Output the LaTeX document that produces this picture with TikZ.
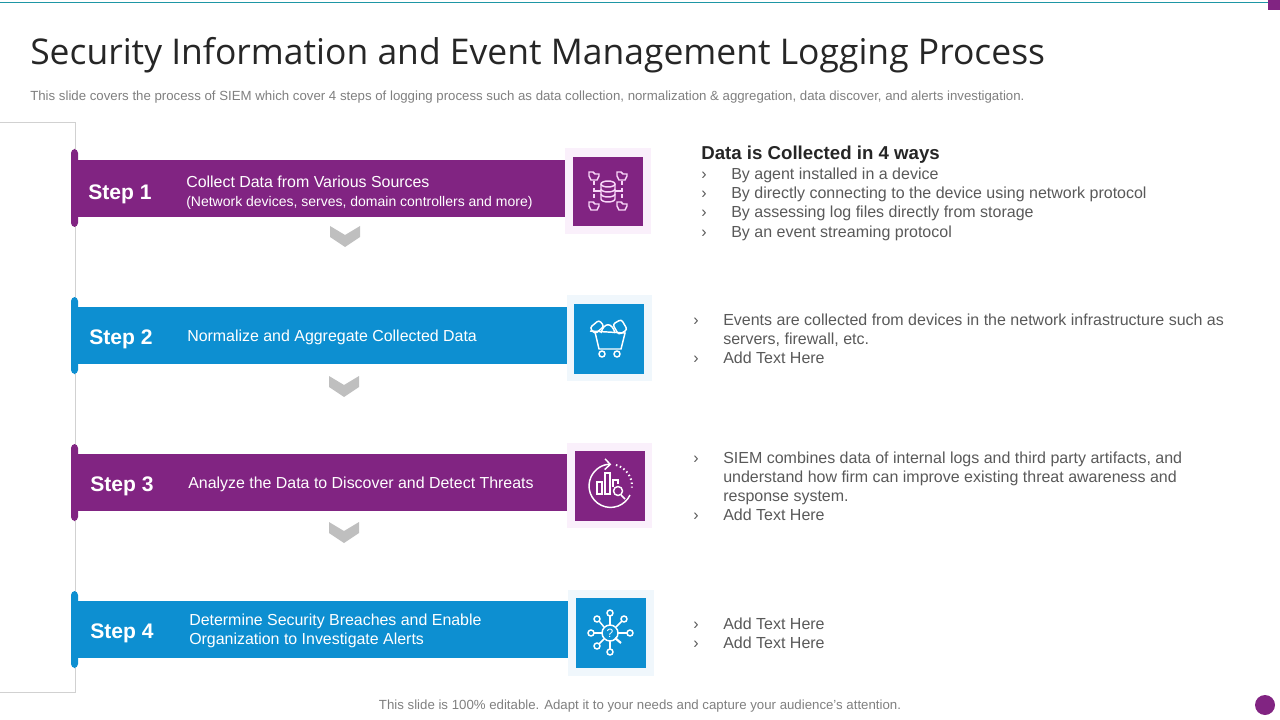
\documentclass[tikz,border=0pt]{standalone}
\usepackage{fontspec}
\usetikzlibrary{arrows.meta}
\setmainfont{Liberation Sans}
\newfontfamily\titlefont{Open Sans}
\definecolor{stepPurple}{RGB}{129,36,130}
\definecolor{stepBlue}{RGB}{13,143,209}
\definecolor{palePurple}{RGB}{250,240,251}
\definecolor{paleBlue}{RGB}{240,247,252}
\definecolor{iconPink}{RGB}{248,214,248}
\definecolor{bodyGray}{RGB}{89,89,89}
\definecolor{noteGray}{RGB}{127,127,127}
\definecolor{topTeal}{RGB}{30,150,165}

\tikzset{
    txt/.style={anchor=base west,inner sep=0pt,font=\fontsize{12}{14}\selectfont,text=bodyGray},
    steplabel/.style={anchor=base west,inner sep=0pt,font=\fontsize{15.8}{18}\bfseries\selectfont,text=white},
    bartxt/.style={anchor=base west,inner sep=0pt,font=\fontsize{11.95}{14}\selectfont,text=white},
    chevron/.style={fill=black!25},
    iconline/.style={draw=white,line width=1.1pt,fill=none},
    pinkline/.style={draw=iconPink,line width=1.1pt,fill=none}
}

\begin{document}
\begin{tikzpicture}[x=0.75pt,y=-0.75pt]
    \useasboundingbox (0,0) rectangle (1280,720);

    \draw[topTeal,line width=0.75pt] (0,3) -- (1268,3);
    \fill[stepPurple] (1268,0) rectangle (1280,10);
    \fill[stepPurple] (1265,705) circle (10);
    \draw[black!18,line width=0.75pt] (0,123) -- (75,123) -- (75,692) -- (0,692);

    \node[anchor=base west,inner sep=0pt,font=\titlefont\fontsize{26.6}{30}\selectfont,text=black!85] (title) at (30,65) {Security Information and Event Management Logging Process};
    \node[anchor=base west,inner sep=0pt,font=\fontsize{9.93}{11}\selectfont,text=noteGray] (subtitle) at (30,101) {This slide covers the process of SIEM which cover 4 steps of logging process such as data collection, normalization \& aggregation, data discover, and alerts investigation.};
    \node[anchor=base,inner sep=0pt,font=\fontsize{9.93}{11}\selectfont,text=noteGray] (footer) at (640,709) {This slide is 100\% editable. Adapt it to your needs and capture your audience's attention.};

    % step bars
    \fill[stepPurple] (76,160) rectangle (565,217);
    \fill[stepPurple,rounded corners=3] (71,149) rectangle (78,227);
    \fill[stepBlue] (76,307) rectangle (567,364);
    \fill[stepBlue,rounded corners=3] (71,297) rectangle (78,374);
    \fill[stepPurple] (76,454) rectangle (567,511);
    \fill[stepPurple,rounded corners=3] (71,444) rectangle (78,521);
    \fill[stepBlue] (76,601) rectangle (568,658);
    \fill[stepBlue,rounded corners=3] (71,591) rectangle (78,668);

    % icon squares
    \fill[palePurple] (565,148) rectangle (651,234);
    \fill[stepPurple] (573,157) rectangle (643,226);
    \fill[paleBlue] (567,295) rectangle (652,381);
    \fill[stepBlue] (574,304) rectangle (644,374);
    \fill[palePurple] (567,443) rectangle (652,528);
    \fill[stepPurple] (575,451) rectangle (645,521);
    \fill[paleBlue] (568,590) rectangle (654,676);
    \fill[stepBlue] (576,598) rectangle (646,668);

    % chevrons
    \fill[chevron,shift={(345,226)}] (-15,0) -- (0,9) -- (15,0) -- (15,11) -- (0,21) -- (-15,11) -- cycle;
    \fill[chevron,shift={(344,376)}] (-15,0) -- (0,9) -- (15,0) -- (15,11) -- (0,21) -- (-15,11) -- cycle;
    \fill[chevron,shift={(344,522)}] (-15,0) -- (0,9) -- (15,0) -- (15,11) -- (0,21) -- (-15,11) -- cycle;

    \node[steplabel] (step1) at (88,200) {Step 1};
    \node[steplabel] (step2) at (89,344) {Step 2};
    \node[steplabel] (step3) at (90,491) {Step 3};
    \node[steplabel] (step4) at (90,638) {Step 4};

    \node[bartxt] (bar1a) at (186,188) {Collect Data from Various Sources};
    \node[bartxt,font=\fontsize{10.5}{12}\selectfont] (bar1b) at (186,207) {(Network devices, serves, domain controllers and more)};
    \node[bartxt] (bar2) at (187,341) {Normalize and Aggregate Collected Data};
    \node[bartxt] (bar3) at (188,488) {Analyze the Data to Discover and Detect Threats};
    \node[bartxt] (bar4a) at (189,625) {Determine Security Breaches and Enable};
    \node[bartxt] (bar4b) at (189,644) {Organization to Investigate Alerts};

    % right column
    \node[txt,font=\fontsize{14}{16}\bfseries\selectfont,text=black!85] (head) at (701,160) {Data is Collected in 4 ways};
    \node[txt] (m1) at (701,180) {›};
    \node[txt] (t1) at (731,180) {By agent installed in a device};
    \node[txt] (m2) at (701,199) {›};
    \node[txt] (t2) at (731,199) {By directly connecting to the device using network protocol};
    \node[txt] (m3) at (701,218) {›};
    \node[txt] (t3) at (731,218) {By assessing log files directly from storage};
    \node[txt] (m4) at (701,238) {›};
    \node[txt] (t4) at (731,238) {By an event streaming protocol};

    \node[txt] (m5) at (693,325) {›};
    \node[txt] (t5) at (723,325) {Events are collected from devices in the network infrastructure such as};
    \node[txt] (t5b) at (723,344) {servers, firewall, etc.};
    \node[txt] (m6) at (693,363) {›};
    \node[txt] (t6) at (723,363) {Add Text Here};

    \node[txt] (m7) at (693,463) {›};
    \node[txt] (t7) at (723,463) {SIEM combines data of internal logs and third party artifacts, and};
    \node[txt] (t7b) at (723,482) {understand how firm can improve existing threat awareness and};
    \node[txt] (t7c) at (723,501) {response system.};
    \node[txt] (m8) at (693,520) {›};
    \node[txt] (t8) at (723,520) {Add Text Here};

    \node[txt] (m9) at (693,629) {›};
    \node[txt] (t9) at (723,629) {Add Text Here};
    \node[txt] (m10) at (693,648) {›};
    \node[txt] (t10) at (723,648) {Add Text Here};

    % icon 1
    \draw[iconline,pinkline] (601,184) -- (601,199) arc[x radius=7,y radius=3,start angle=180,end angle=0] -- (615,184);
    \draw[pinkline] (608,184) ellipse (7 and 3);
    \draw[pinkline] (601,189) arc[x radius=7,y radius=3,start angle=180,end angle=0];
    \draw[pinkline] (601,194) arc[x radius=7,y radius=3,start angle=180,end angle=0];
    \draw[pinkline] (594,191) -- (601,191) (615,191) -- (622,191);
    \draw[pinkline,densely dashed] (594,181) -- (594,201) (622,181) -- (622,201);
    \draw[pinkline,shift={(594,176)}] (-5,-4) -- (-1,-4) -- (1,-2) -- (5,-2) -- (5,0) -- (3,4) -- (-3,4) -- (-5,0) -- cycle;
    \draw[pinkline,shift={(622,176)}] (-5,-4) -- (-1,-4) -- (1,-2) -- (5,-2) -- (5,0) -- (3,4) -- (-3,4) -- (-5,0) -- cycle;
    \draw[pinkline,shift={(594,206)}] (-5,-4) -- (-1,-4) -- (1,-2) -- (5,-2) -- (5,0) -- (3,4) -- (-3,4) -- (-5,0) -- cycle;
    \draw[pinkline,shift={(622,206)}] (-5,-4) -- (-1,-4) -- (1,-2) -- (5,-2) -- (5,0) -- (3,4) -- (-3,4) -- (-5,0) -- cycle;

    % icon 2
    \draw[iconline] (590,331) -- (625,333) -- (621,349) -- (599,349) -- (595,332);
    \draw[iconline] (602,354) circle (3);
    \draw[iconline] (617,354) circle (3);
    \draw[iconline,rounded corners=2,rotate around={40:(597,327)}] (591,323) rectangle (603,331);
    \draw[iconline] (601,333) .. controls (604,322) and (612,322) .. (615,333);
    \draw[iconline,rounded corners=2,rotate around={30:(620,327)}] (615,321) rectangle (625,333);

    % icon 3
    \draw[iconline,-{Straight Barb[length=4pt]}] (630,495) arc[radius=21.5,start angle=25,end angle=272];
    \draw[iconline,dotted,line width=1.5pt] (616,465) arc[radius=21.5,start angle=-75,end angle=5];
    \draw[iconline] (597,494) rectangle (602,482);
    \draw[iconline] (605,494) rectangle (610,473);
    \draw[iconline] (613,487) -- (613,480) -- (618,480) -- (618,484);
    \draw[iconline] (618,491) circle (4.5);
    \draw[iconline] (621,495) -- (625,499);

    % icon 4
    \draw[iconline] (610,633) circle (8);
    \node[inner sep=0pt,text=white,font=\fontsize{9}{10}\selectfont] (help) at (610,633) {?};
    \draw[iconline] (610,613) circle (3);
    \draw[iconline] (610,616) -- (610,625);
    \draw[iconline] (610,652) circle (3);
    \draw[iconline] (610,641) -- (610,649);
    \draw[iconline] (591,633) circle (3);
    \draw[iconline] (594,633) -- (602,633);
    \draw[iconline] (630,633) circle (3);
    \draw[iconline] (618,633) -- (627,633);
    \draw[iconline] (597,619) circle (3);
    \draw[iconline] (599,621) -- (604,627);
    \draw[iconline] (624,619) circle (3);
    \draw[iconline] (622,621) -- (616,627);
    \draw[iconline] (597,646) circle (3);
    \draw[iconline] (599,644) -- (604,639);
    \draw[iconline,line width=1.6pt] (615,638) -- (621,643);
\end{tikzpicture}
\end{document}
